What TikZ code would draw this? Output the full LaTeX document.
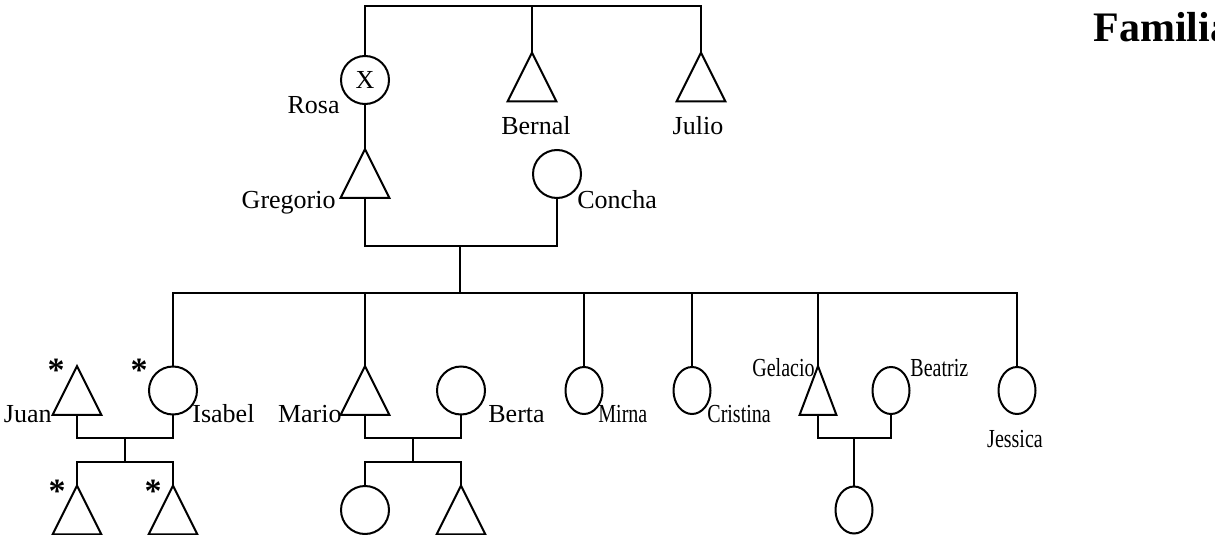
\documentclass[tikz,border=0pt]{standalone}
\usepackage{fontspec}
\setmainfont{Liberation Serif}
\usetikzlibrary{shapes.geometric}
\newcommand\nar[1]{\scalebox{0.77}[1]{#1}}
\tikzset{
  ln/.style={line width=1pt, line cap=rect},
  circ/.style={circle, draw, line width=1pt, minimum size=24pt, inner sep=0pt},
  ell/.style={ellipse, draw, line width=1pt, minimum width=18.5pt, minimum height=23.5pt, inner sep=0pt},
  tribox/.style={rectangle, minimum width=24pt, minimum height=24pt, inner sep=0pt},
  lbl/.style={inner sep=0pt, font=\fontsize{13}{15}\selectfont},
  ast/.style={inner sep=0pt, anchor=base, font=\fontsize{17}{20}\selectfont\bfseries},
}
\newcommand\tri[3][24pt]{%
  \node[tribox, minimum width=#1] (#2) at (#3) {};
  \draw[line width=1pt, line join=miter] (#2.south west) -- (#2.north) -- (#2.south east) -- cycle;}
\begin{document}
\begin{tikzpicture}[x=0.5pt, y=-0.5pt]
\useasboundingbox (0,0) rectangle (1215,535);
% generation 1
\node[circ, font=\fontsize{13}{15}\selectfont] (rosa) at (365,80) {X};
\tri{bernal}{532,77}
\tri{julio}{701,77}
\node[lbl, anchor=base east] (lrosa) at (340,113) {Rosa};
\node[lbl, anchor=base] (lbernal) at (536,134) {Bernal};
\node[lbl, anchor=base] (ljulio) at (698,134) {Julio};
% generation 2
\tri{greg}{365,173.5}
\node[circ] (concha) at (557,174) {};
\node[lbl, anchor=base east] (lgreg) at (336,208) {Gregorio};
\node[lbl, anchor=base west] (lconcha) at (577,208) {Concha};
% generation 3
\tri{juan}{77,390.5}
\node[circ] (isabel) at (173,390.5) {};
\tri{mario}{365,390.5}
\node[circ] (berta) at (461,390.5) {};
\node[ell] (mirna) at (584,390.5) {};
\node[ell] (cristina) at (692,390.5) {};
\tri[18pt]{gelacio}{818,390.5}
\node[ell] (beatriz) at (891,390.5) {};
\node[ell] (jessica) at (1017,390.5) {};
\node[lbl, anchor=base east] (ljuan) at (52,422) {Juan};
\node[lbl, anchor=base west] (lisabel) at (192,422) {Isabel};
\node[lbl, anchor=base east] (lmario) at (342,422) {Mario};
\node[lbl, anchor=base west] (lberta) at (488,422) {Berta};
\node[lbl, anchor=base west] (lmirna) at (598,422) {\nar{Mirna}};
\node[lbl, anchor=base west] (lcristina) at (707,422) {\nar{Cristina}};
\node[lbl, anchor=base east] (lgelacio) at (815,376) {\nar{Gelacio}};
\node[lbl, anchor=base west] (lbeatriz) at (910,376) {\nar{Beatriz}};
\node[lbl, anchor=base] (ljessica) at (1015,447) {\nar{Jessica}};
\node[ast] (ajuan) at (56,381) {*};
\node[ast] (aisabel) at (139,381) {*};
% generation 4
\tri{k1}{77,510}
\tri{k2}{173,510}
\node[circ] (k3) at (365,510) {};
\tri{k4}{461,510}
\node[ell] (k5) at (854,510) {};
\node[ast] (ak1) at (57,502) {*};
\node[ast] (ak2) at (153,502) {*};
% title
\node[anchor=base west, inner sep=0pt, font=\fontsize{21}{25}\selectfont\bfseries] (title) at (1093,42) {Familia};
% connector points
\coordinate (top) at (365,6);
\coordinate (gc) at (460,246);
\coordinate (sib) at (460,293);
\coordinate (ji) at (125,438);
\coordinate (jic) at (125,462);
\coordinate (mb) at (413,438);
\coordinate (mbc) at (413,462);
\coordinate (gb) at (854,438);
% connectors
\draw[ln] (rosa.north) -- (top) -- (julio.north |- top) -- (julio.north);
\draw[ln] (bernal.north |- top) -- (bernal.north);
\draw[ln] (rosa.south) -- (greg.north);
\draw[ln] (greg.south) |- (gc) -| (concha.south);
\draw[ln] (gc) -- (sib);
\draw[ln] (isabel.north) |- (sib) -| (jessica.north);
\draw[ln] (mario.north |- sib) -- (mario.north);
\draw[ln] (mirna.north |- sib) -- (mirna.north);
\draw[ln] (cristina.north |- sib) -- (cristina.north);
\draw[ln] (gelacio.north |- sib) -- (gelacio.north);
\draw[ln] (juan.south) |- (ji) -| (isabel.south);
\draw[ln] (ji) -- (jic);
\draw[ln] (k1.north) |- (jic) -| (k2.north);
\draw[ln] (mario.south) |- (mb) -| (berta.south);
\draw[ln] (mb) -- (mbc);
\draw[ln] (k3.north) |- (mbc) -| (k4.north);
\draw[ln] (gelacio.south) |- (gb) -| (beatriz.south);
\draw[ln] (gb) -- (k5.north);
\end{tikzpicture}
\end{document}
